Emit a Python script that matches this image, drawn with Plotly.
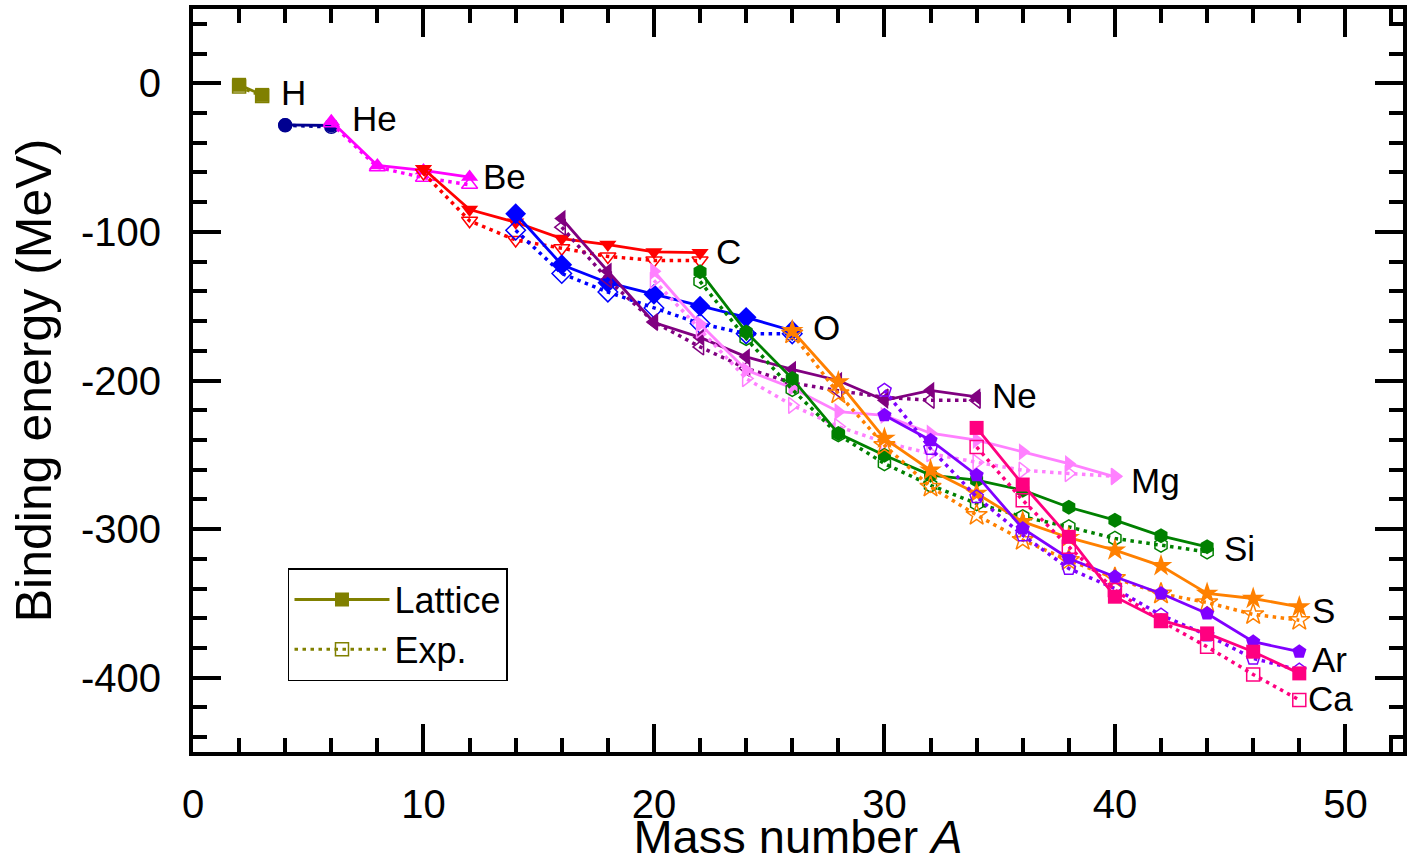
import plotly.graph_objects as go

# ---------------- data ----------------
elements = ["H", "He", "Be", "C", "O", "Ne", "Mg", "Si", "S", "Ar", "Ca"]

A_H = [2, 3]
A_He = [4, 6]
A_Be = [6, 8, 10, 12]
A_C = [10, 12, 14, 16, 18, 20, 22]
A_O = [14, 16, 18, 20, 22, 24, 26]
A_Ne = [16, 18, 20, 22, 24, 26, 28, 30, 32, 34]
A_Mg = [20, 22, 24, 26, 28, 30, 32, 34, 36, 38, 40]
A_Si = [22, 24, 26, 28, 30, 32, 34, 36, 38, 40, 42, 44]
A_S = [26, 28, 30, 32, 34, 36, 38, 40, 42, 44, 46, 48]
A_Ar = [30, 32, 34, 36, 38, 40, 42, 44, 46, 48]
A_Ca = [34, 36, 38, 40, 42, 44, 46, 48]

lat_H = [-1.0, -7.8]
lat_He = [-28.0, -28.4]
lat_Be = [-25.5, -55.3, -58.6, -63.1]
lat_C = [-57.5, -85.0, -93.5, -104.5, -108.5, -113.5, -114.0]
lat_O = [-87.8, -122.1, -134.2, -142.0, -150.0, -157.5, -166.5]
lat_Ne = [-91.0, -126.5, -161.0, -171.0, -184.1, -192.5, -200.0, -213.3, -206.6, -211.0]
lat_Mg = [-126.5, -162.0, -193.0, -205.0, -221.0, -223.5, -235.5, -240.2, -248.0, -256.0, -264.8]
lat_Si = [-126.8, -167.3, -198.7, -235.7, -250.3, -263.7, -267.1, -273.8, -285.3, -294.0, -304.5, -311.9]
lat_S = [-166.5, -201.0, -239.0, -260.4, -276.0, -295.0, -305.8, -314.2, -324.7, -343.3, -346.7, -352.3]
lat_Ar = [-223.4, -240.2, -263.7, -299.6, -319.8, -332.1, -343.3, -356.8, -375.8, -382.5]
lat_Ca = [-231.9, -270.0, -305.2, -345.5, -361.3, -370.2, -382.5, -397.1]

exp_H = [-2.2, -8.5]
exp_He = [-28.3, -29.3]
exp_Be = [-26.9, -56.5, -63.5, -68.3]
exp_C = [-60.3, -92.5, -105.5, -111.0, -116.5, -119.2, -119.2]
exp_O = [-98.9, -128.0, -140.5, -151.2, -161.7, -168.6, -168.6]
exp_Ne = [-96.8, -132.1, -160.6, -177.4, -191.8, -201.6, -206.9, -211.3, -213.3, -213.3]
exp_Mg = [-132.6, -166.0, -198.7, -216.7, -231.0, -241.6, -249.2, -255.0, -260.4, -262.6, -264.5]
exp_Si = [-133.3, -171.7, -206.0, -236.5, -255.9, -270.5, -282.8, -291.7, -298.5, -306.3, -310.8, -315.3]
exp_S = [-168.5, -208.8, -243.6, -271.6, -290.6, -307.4, -321.0, -333.0, -343.5, -349.4, -357.4, -361.3]
exp_Ar = [-206.6, -245.8, -278.3, -304.1, -326.5, -340.0, -357.9, -371.3, -387.0, -394.9]
exp_Ca = [-244.7, -280.6, -311.9, -341.0, -361.9, -379.2, -397.8, -415.0]

# label anchor positions (A, E) for element names
label_x = [3.75, 6.8, 12.5, 22.6, 26.8, 34.6, 40.6, 44.65, 48.45, 48.45, 48.3]
label_y = [-6, -24, -63, -113.5, -164, -210, -267, -313, -355, -388, -414]

x_ticks = [0, 10, 20, 30, 40, 50]
y_ticks = [0, -100, -200, -300, -400]
y_ticktext = ["0", "-100", "-200", "-300", "-400"]

# ---------------- styles ----------------
colors = ["#808000", "#000090", "#FF00FF", "#FF0000", "#0000FF", "#800080",
          "#FF80FF", "#008000", "#FF8000", "#8000FF", "#FF0080"]
symbols = ["square", "circle", "triangle-up", "triangle-down", "diamond",
           "triangle-left", "triangle-right", "hexagon", "star", "pentagon", "square"]
sizes = [14, 14, 15, 15, 16, 15, 15, 15, 17, 15, 14]

A_all = [A_H, A_He, A_Be, A_C, A_O, A_Ne, A_Mg, A_Si, A_S, A_Ar, A_Ca]
lat_all = [lat_H, lat_He, lat_Be, lat_C, lat_O, lat_Ne, lat_Mg, lat_Si, lat_S, lat_Ar, lat_Ca]
exp_all = [exp_H, exp_He, exp_Be, exp_C, exp_O, exp_Ne, exp_Mg, exp_Si, exp_S, exp_Ar, exp_Ca]

FONT = "Liberation Sans, Arial, Helvetica, sans-serif"
DOT = "3.5px,4.5px"

fig = go.Figure()

for el, A, lat, ex, c, s, ms in zip(elements, A_all, lat_all, exp_all, colors, symbols, sizes):
    fig.add_trace(go.Scatter(
        x=A, y=ex, mode="lines+markers", name=el + " exp", showlegend=False,
        line=dict(color=c, width=3.5, dash=DOT),
        marker=dict(symbol=s + "-open", size=ms - 1, color=c, line=dict(width=1.5, color=c)),
    ))
    fig.add_trace(go.Scatter(
        x=A, y=lat, mode="lines+markers", name=el + " lattice", showlegend=False,
        line=dict(color=c, width=2.8),
        marker=dict(symbol=s, size=ms, color=c, line=dict(width=0)),
    ))

# legend entries
fig.add_trace(go.Scatter(
    x=[None], y=[None], mode="lines+markers", name="Lattice",
    line=dict(color="#808000", width=3),
    marker=dict(symbol="square", size=14, color="#808000"),
))
fig.add_trace(go.Scatter(
    x=[None], y=[None], mode="lines+markers", name="Exp.",
    line=dict(color="#808000", width=3, dash=DOT),
    marker=dict(symbol="square-open", size=13, color="#808000", line=dict(width=1.5)),
))

for el, lx, ly in zip(elements, label_x, label_y):
    fig.add_annotation(x=lx, y=ly, text=el, showarrow=False, xanchor="left",
                       yanchor="middle", font=dict(family=FONT, size=35, color="black"))

axis_common = dict(
    showline=True, linewidth=4, linecolor="black", mirror="ticks",
    ticks="inside", ticklen=28, tickwidth=4, tickcolor="black",
    showgrid=False, zeroline=False, automargin=False,
    tickfont=dict(family=FONT, size=40, color="black"),
)

fig.update_layout(
    width=1407, height=863,
    margin=dict(l=193, r=4, t=9, b=111),
    paper_bgcolor="white", plot_bgcolor="white",
    xaxis=dict(range=[0, 52.5], tickvals=x_ticks,
               minor=dict(dtick=2, ticklen=14, tickwidth=4, tickcolor="black", ticks="inside"),
               ticklabelstandoff=14,
               title=dict(text="Mass number <i>A</i>", font=dict(family=FONT, size=47, color="black"),
                          standoff=15),
               **axis_common),
    yaxis=dict(range=[-450, 50], tickvals=y_ticks, ticktext=y_ticktext,
               minor=dict(dtick=20, ticklen=14, tickwidth=4, tickcolor="black", ticks="inside"),
               ticklabelstandoff=20,
               title=dict(text="Binding energy (MeV)", font=dict(family=FONT, size=50, color="black"),
                          standoff=14),
               **axis_common),
    legend=dict(x=0.0785, y=0.2476, xanchor="left", yanchor="top",
                bordercolor="black", borderwidth=1.5, bgcolor="white",
                font=dict(family=FONT, size=36, color="black"),
                itemwidth=95, tracegroupgap=0),
    showlegend=True,
)

fig.write_html("out.html",
               config={"displayModeBar": False},
               post_script="document.body.style.margin='0px';"
                           "document.documentElement.style.overflow='hidden';")
